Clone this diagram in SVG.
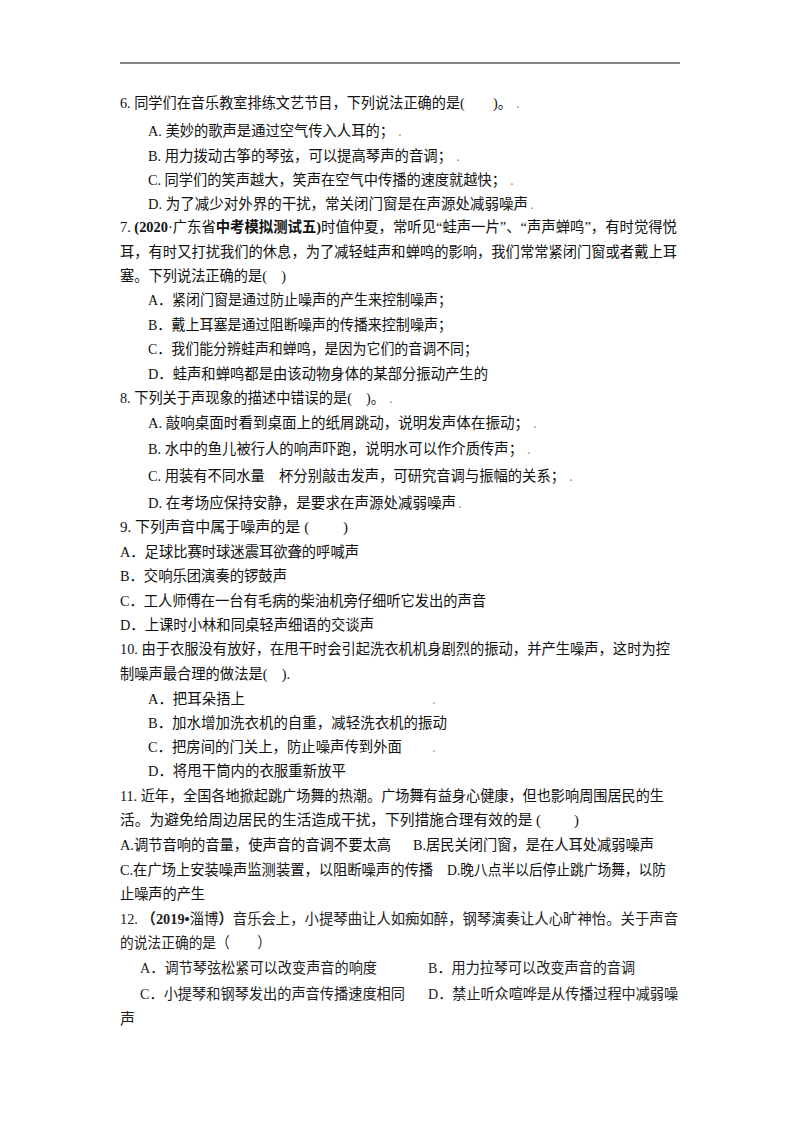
<svg xmlns="http://www.w3.org/2000/svg" width="800" height="1132" viewBox="0 0 800 1132">
<style>
text{font-family:"Liberation Serif","Noto Sans CJK SC",serif;font-size:15px;fill:#111}
.b{font-weight:bold}
.s{fill:#222}
.d{fill:#999}
</style>
<rect width="800" height="1132" fill="#fff"/>
<line x1="120" y1="63" x2="680" y2="63" stroke="#111" stroke-width="1.2"/>
<g>
<text x="120" y="108" textLength="392" lengthAdjust="spacingAndGlyphs">6. 同学们在音乐教室排练文艺节目，下列说法正确的是(　　)。</text>
<text x="148" y="136" textLength="246" lengthAdjust="spacingAndGlyphs">A. 美妙的歌声是通过空气传入人耳的；</text>
<text x="148" y="161" textLength="304" lengthAdjust="spacingAndGlyphs">B. 用力拨动古筝的琴弦，可以提高琴声的音调；</text>
<text x="148" y="185" textLength="358" lengthAdjust="spacingAndGlyphs">C. 同学们的笑声越大，笑声在空气中传播的速度就越快；</text>
<text x="148" y="209" textLength="380" lengthAdjust="spacingAndGlyphs">D. 为了减少对外界的干扰，常关闭门窗是在声源处减弱噪声</text>
<text x="120" y="232" textLength="557" lengthAdjust="spacingAndGlyphs">7. <tspan class="b">(2020</tspan>·广东省<tspan class="b">中考模拟测试五)</tspan>时值仲夏，常听见“蛙声一片”、“声声蝉鸣”，有时觉得悦</text>
<text x="120" y="257" textLength="557" lengthAdjust="spacingAndGlyphs">耳，有时又打扰我们的休息，为了减轻蛙声和蝉鸣的影响，我们常常紧闭门窗或者戴上耳</text>
<text x="120" y="281" textLength="166" lengthAdjust="spacingAndGlyphs">塞。下列说法正确的是(　)</text>
<text x="148" y="305" textLength="304" lengthAdjust="spacingAndGlyphs">A．紧闭门窗是通过防止噪声的产生来控制噪声；</text>
<text x="148" y="330" textLength="304" lengthAdjust="spacingAndGlyphs">B．戴上耳塞是通过阻断噪声的传播来控制噪声；</text>
<text x="148" y="354" textLength="330" lengthAdjust="spacingAndGlyphs">C．我们能分辨蛙声和蝉鸣，是因为它们的音调不同；</text>
<text x="148" y="379" textLength="340" lengthAdjust="spacingAndGlyphs">D．蛙声和蝉鸣都是由该动物身体的某部分振动产生的</text>
<text x="120" y="403" textLength="265" lengthAdjust="spacingAndGlyphs">8. 下列关于声现象的描述中错误的是(　)。</text>
<text x="148" y="428" textLength="381" lengthAdjust="spacingAndGlyphs">A. 敲响桌面时看到桌面上的纸屑跳动，说明发声体在振动；</text>
<text x="148" y="454" textLength="375" lengthAdjust="spacingAndGlyphs">B. 水中的鱼儿被行人的响声吓跑，说明水可以作介质传声；</text>
<text x="148" y="481" textLength="417" lengthAdjust="spacingAndGlyphs">C. 用装有不同水量　杯分别敲击发声，可研究音调与振幅的关系；</text>
<text x="148" y="508" textLength="308" lengthAdjust="spacingAndGlyphs">D. 在考场应保持安静，是要求在声源处减弱噪声</text>
<text x="120" y="532" textLength="228" lengthAdjust="spacingAndGlyphs">9. 下列声音中属于噪声的是 (　　 )</text>
<text x="120" y="557" textLength="239" lengthAdjust="spacingAndGlyphs">A．足球比赛时球迷震耳欲聋的呼喊声</text>
<text x="120" y="581" textLength="167" lengthAdjust="spacingAndGlyphs">B．交响乐团演奏的锣鼓声</text>
<text x="120" y="606" textLength="366" lengthAdjust="spacingAndGlyphs">C．工人师傅在一台有毛病的柴油机旁仔细听它发出的声音</text>
<text x="120" y="630" textLength="254" lengthAdjust="spacingAndGlyphs">D．上课时小林和同桌轻声细语的交谈声</text>
<text x="120" y="654" textLength="550" lengthAdjust="spacingAndGlyphs">10. 由于衣服没有放好，在甩干时会引起洗衣机机身剧烈的振动，并产生噪声，这时为控</text>
<text x="120" y="679" textLength="170" lengthAdjust="spacingAndGlyphs">制噪声最合理的做法是(　).</text>
<text x="148" y="704" textLength="97" lengthAdjust="spacingAndGlyphs">A．把耳朵捂上</text>
<text x="148" y="728" textLength="299" lengthAdjust="spacingAndGlyphs">B．加水增加洗衣机的自重，减轻洗衣机的振动</text>
<text x="148" y="752" textLength="254" lengthAdjust="spacingAndGlyphs">C．把房间的门关上，防止噪声传到外面</text>
<text x="148" y="776" textLength="198" lengthAdjust="spacingAndGlyphs">D．将甩干筒内的衣服重新放平</text>
<text x="120" y="801" textLength="544" lengthAdjust="spacingAndGlyphs">11. 近年，全国各地掀起跳广场舞的热潮。广场舞有益身心健康，但也影响周围居民的生</text>
<text x="120" y="825" textLength="459" lengthAdjust="spacingAndGlyphs">活。为避免给周边居民的生活造成干扰，下列措施合理有效的是 (　　 )</text>
<text x="120" y="850" textLength="271" lengthAdjust="spacingAndGlyphs">A.调节音响的音量，使声音的音调不要太高</text>
<text x="413" y="850" textLength="241" lengthAdjust="spacingAndGlyphs">B.居民关闭门窗，是在人耳处减弱噪声</text>
<text x="120" y="875" textLength="313" lengthAdjust="spacingAndGlyphs">C.在广场上安装噪声监测装置，以阻断噪声的传播</text>
<text x="447" y="875" textLength="219" lengthAdjust="spacingAndGlyphs">D.晚八点半以后停止跳广场舞，以防</text>
<text x="120" y="899" textLength="85" lengthAdjust="spacingAndGlyphs">止噪声的产生</text>
<text class="s" x="120" y="924" textLength="558" lengthAdjust="spacingAndGlyphs">12. <tspan class="b">（2019•</tspan>淄博<tspan class="b">）</tspan>音乐会上，小提琴曲让人如痴如醉，钢琴演奏让人心旷神怡。关于声音</text>
<text class="s" x="120" y="948" textLength="151" lengthAdjust="spacingAndGlyphs">的说法正确的是（　　）</text>
<text class="s" x="140" y="973" textLength="237" lengthAdjust="spacingAndGlyphs">A．调节琴弦松紧可以改变声音的响度</text>
<text class="s" x="428" y="973" textLength="207" lengthAdjust="spacingAndGlyphs">B．用力拉琴可以改变声音的音调</text>
<text class="s" x="140" y="999" textLength="265" lengthAdjust="spacingAndGlyphs">C．小提琴和钢琴发出的声音传播速度相同</text>
<text class="s" x="428" y="999" textLength="250" lengthAdjust="spacingAndGlyphs">D．禁止听众喧哗是从传播过程中减弱噪</text>
<text class="s" x="120" y="1024">声</text>
</g>
<g>
<text class="d" x="516" y="108">.</text>
<text class="d" x="398" y="136">.</text>
<text class="d" x="456" y="161">.</text>
<text class="d" x="510" y="185">.</text>
<text class="d" x="530" y="209">.</text>
<text class="d" x="389" y="403">.</text>
<text class="d" x="533" y="428">.</text>
<text class="d" x="527" y="454">.</text>
<text class="d" x="569" y="481">.</text>
<text class="d" x="458" y="508">.</text>
<text class="d" x="432" y="704">.</text>
<text class="d" x="432" y="752">.</text>
</g>
</svg>
